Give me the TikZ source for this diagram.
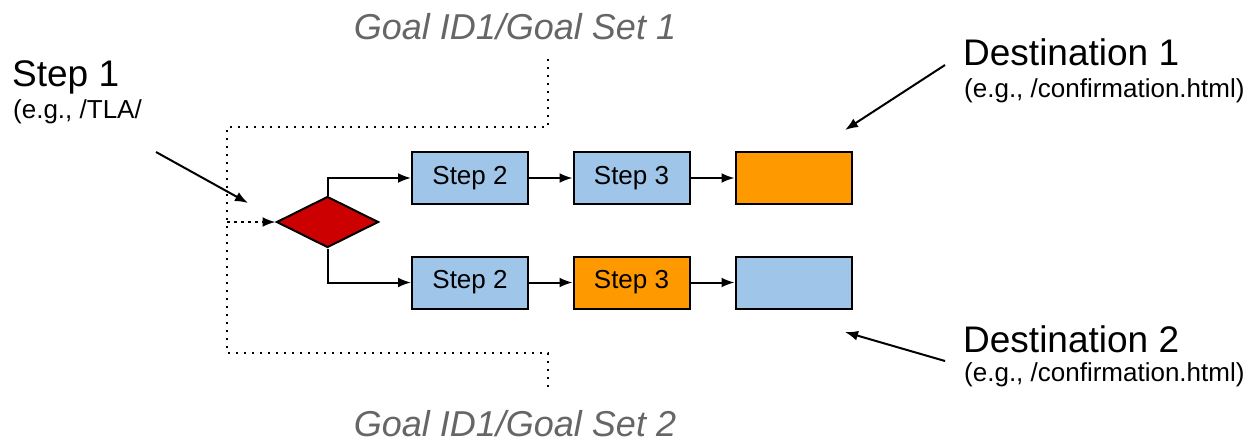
\documentclass[tikz,border=0pt]{standalone}
\usepackage{fontspec}
\setmainfont{Liberation Sans}
\usepackage{tikz}
\usetikzlibrary{arrows.meta,shapes.geometric}

\definecolor{stepblue}{HTML}{9FC5E8}
\definecolor{steporange}{HTML}{FF9900}
\definecolor{splitred}{HTML}{CC0000}
\definecolor{goalgray}{HTML}{666666}

\begin{document}
\begin{tikzpicture}[
    x=1pt, y=-1pt,
    stepbox/.style={rectangle, draw, line width=2pt, minimum width=116pt, minimum height=52pt, inner sep=0pt, font=\fontsize{26}{30}\selectfont},
    bluestep/.style={stepbox, fill=stepblue},
    orangestep/.style={stepbox, fill=steporange},
    split/.style={diamond, draw, line width=2pt, fill=splitred, minimum width=102pt, minimum height=51pt, inner sep=0pt},
    bigtext/.style={anchor=base west, inner sep=0pt, font=\fontsize{37}{44}\selectfont},
    smalltext/.style={anchor=base west, inner sep=0pt, font=\fontsize{26}{31}\selectfont},
    goaltext/.style={anchor=base, inner sep=0pt, text=goalgray, font=\fontsize{36}{43}\selectfont\itshape},
    arrow/.style={-{Latex[length=13pt,width=10pt]}, line width=2pt},
    entry/.style={arrow, dash pattern=on 3pt off 4pt},
    bracket/.style={line width=2pt, dash pattern=on 2pt off 6pt}
]
\useasboundingbox (0,0) rectangle (1253,445);

% Goal sets
\node[goaltext] (goal_set1) at (515,39) {Goal ID1/Goal Set 1};
\node[goaltext] (goal_set2) at (515,436) {Goal ID1/Goal Set 2};

% Split
\node[split] (split) at (327.5,222) {};

% Funnel 1
\node[bluestep] (step2_a) at (470,178) {Step 2};
\node[bluestep] (step3_a) at (631.5,178) {Step 3};
\node[orangestep] (dest_a) at (793.5,178) {};

% Funnel 2
\node[bluestep] (step2_b) at (470,282.5) {Step 2};
\node[orangestep] (step3_b) at (631.5,282.5) {Step 3};
\node[bluestep] (dest_b) at (793.5,282.5) {};

% Labels
\node[bigtext] (step1_title) at (12,86) {Step 1};
\node[smalltext] (step1_hint) at (13,118) {(e.g., /TLA/};
\node[bigtext] (dest1_title) at (963,65) {Destination 1};
\node[smalltext] (dest1_hint) at (964,97) {(e.g., /confirmation.html)};
\node[bigtext] (dest2_title) at (963,352) {Destination 2};
\node[smalltext] (dest2_hint) at (964,381) {(e.g., /confirmation.html)};

% Bracket
\coordinate (set1_end) at (548,59);
\coordinate (set1_corner) at (227,127);
\coordinate (set2_corner) at (227,353);
\coordinate (set2_end) at (548,387);
\coordinate (entry_point) at (227,222);
\draw[bracket] (set1_end) |- (set1_corner) -- (set2_corner) -| (set2_end);
\draw[entry] (entry_point) -- (split.west);

% Flow
\draw[arrow] (split.north) |- (step2_a.west);
\draw[arrow] (split.south) |- (step2_b.west);
\draw[arrow] (step2_a) -- (step3_a);
\draw[arrow] (step3_a) -- (dest_a);
\draw[arrow] (step2_b) -- (step3_b);
\draw[arrow] (step3_b) -- (dest_b);

% Pointers
\coordinate (step1_from) at (156,152);
\coordinate (step1_to) at (248,203);
\coordinate (dest1_from) at (945,65);
\coordinate (dest1_to) at (845,130);
\coordinate (dest2_from) at (945,361);
\coordinate (dest2_to) at (845,332);
\draw[arrow] (step1_from) -- (step1_to);
\draw[arrow] (dest1_from) -- (dest1_to);
\draw[arrow] (dest2_from) -- (dest2_to);

\end{tikzpicture}
\end{document}
